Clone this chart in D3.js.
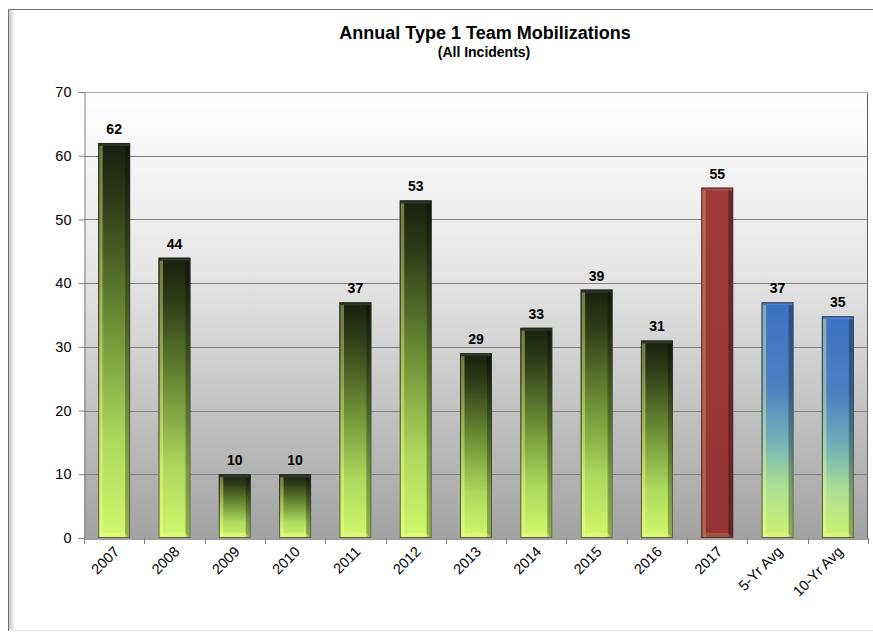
<!DOCTYPE html>
<html><head><meta charset="utf-8">
<script src="https://cdn.jsdelivr.net/npm/d3@7/dist/d3.min.js"></script>
<style>body{margin:0;background:#fff}svg{display:block;font-family:Arial,"Liberation Sans",sans-serif}</style>
</head><body><svg id="c" width="873" height="632"></svg>
<script>
const categories = ["2007","2008","2009","2010","2011","2012","2013","2014","2015","2016","2017","5-Yr Avg","10-Yr Avg"];
const values = [62,44,10,10,37,53,29,33,39,31,55,37,34.8];
const kinds = ["green","green","green","green","green","green","green","green","green","green","red","blue","blue"];
const yTicks = [0,10,20,30,40,50,60,70];
const title = "Annual Type 1 Team Mobilizations";
const subtitle = "(All Incidents)";

const svg = d3.select("#c");
const m = {l:84, r:868, t:92, b:538};
const x = d3.scaleBand().domain(categories).range([m.l, m.r]).paddingInner(0.47).paddingOuter(0.235);
const y = d3.scaleLinear().domain([0,70]).range([m.b, m.t]);

const defs = svg.append("defs");
const bg = defs.append("linearGradient").attr("id","bg").attr("x1",0).attr("y1",0).attr("x2",0).attr("y2",1);
bg.append("stop").attr("offset",0).attr("stop-color","#ffffff");
bg.append("stop").attr("offset",0.4).attr("stop-color","#e6e6e6");
bg.append("stop").attr("offset",1).attr("stop-color","#a2a2a2");
const gg = defs.append("linearGradient").attr("id","g-green").attr("x1",0).attr("y1",0).attr("x2",0).attr("y2",1);
[[0,"#18200e"],[0.15,"#2e3c18"],[0.45,"#6a8c34"],[0.75,"#acd85c"],[1,"#d0f86c"]].forEach(s=>gg.append("stop").attr("offset",s[0]).attr("stop-color",s[1]));
const gr = defs.append("linearGradient").attr("id","g-red").attr("x1",0).attr("y1",0).attr("x2",0).attr("y2",1);
[[0,"#a03a3a"],[1,"#943434"]].forEach(s=>gr.append("stop").attr("offset",s[0]).attr("stop-color",s[1]));
const gb = defs.append("linearGradient").attr("id","g-blue").attr("x1",0).attr("y1",0).attr("x2",0).attr("y2",1);
[[0,"#3c72c4"],[0.35,"#4a80c0"],[0.58,"#70b0b8"],[0.78,"#acde94"],[1,"#cdf270"]].forEach(s=>gb.append("stop").attr("offset",s[0]).attr("stop-color",s[1]));
const sh = defs.append("linearGradient").attr("id","shadow").attr("x1",0).attr("y1",0).attr("x2",1).attr("y2",0);
sh.append("stop").attr("offset",0).attr("stop-color","#c8c8c8");
sh.append("stop").attr("offset",1).attr("stop-color","#ffffff");

// frame
svg.append("rect").attr("x",9).attr("y",10).attr("width",6).attr("height",620).attr("fill","url(#shadow)");
svg.append("path").attr("d","M8.5,631 V9.5 H873").attr("fill","none").attr("stroke","#707070").attr("stroke-width",1);
svg.append("line").attr("x1",14).attr("x2",873).attr("y1",630.5).attr("y2",630.5).attr("stroke","#e4e4e4");

// plot background
svg.append("rect").attr("x",m.l).attr("y",m.t).attr("width",m.r-m.l).attr("height",m.b-m.t).attr("fill","url(#bg)");
svg.append("line").attr("x1",m.r-0.5).attr("x2",m.r-0.5).attr("y1",m.t).attr("y2",m.b).attr("stroke","#606060");

// grid
svg.append("g").selectAll("line").data(yTicks.filter(d=>d>0)).join("line")
  .attr("x1",m.l).attr("x2",m.r).attr("y1",d=>Math.round(y(d))+0.5).attr("y2",d=>Math.round(y(d))+0.5)
  .attr("stroke",d=>d===70?"#b0b0b0":"#808080").attr("stroke-width",1);

// y axis
const ya = svg.append("g").attr("transform",`translate(${m.l+0.5},0)`)
  .call(d3.axisLeft(y).tickValues(yTicks).tickSize(6).tickPadding(7));
ya.select(".domain").attr("stroke","#808080");
ya.selectAll(".tick line").attr("stroke","#808080");
ya.selectAll("text").attr("font-size",14.5).attr("fill","#000").attr("font-family","Arial,'Liberation Sans',sans-serif");

// x axis
const xa = svg.append("g").attr("transform",`translate(0,${m.b+0.5})`)
  .call(d3.axisBottom(x).tickSize(0).tickPadding(0));
xa.select(".domain").attr("stroke","#404040");
xa.selectAll(".tick text").attr("font-size",14.5).attr("fill","#000")
  .attr("font-family","Arial,'Liberation Sans',sans-serif")
  .attr("text-anchor","end").attr("dy",0).attr("transform","translate(6,14) rotate(-45)");
const step = x.step();
const bounds = d3.range(categories.length+1).map(i=>m.l + i*step);
svg.append("g").selectAll("line").data(bounds).join("line")
  .attr("x1",d=>Math.round(d)+0.5).attr("x2",d=>Math.round(d)+0.5).attr("y1",m.b).attr("y2",m.b+6).attr("stroke","#808080");

// bars
const bw = x.bandwidth();
const bars = svg.append("g").selectAll("g").data(categories.map((c,i)=>({c,v:values[i],k:kinds[i]}))).join("g");
bars.append("rect").attr("x",d=>x(d.c)).attr("y",d=>y(d.v)).attr("width",bw).attr("height",d=>y(0)-y(d.v))
  .attr("fill",d=>`url(#g-${d.k})`);
bars.append("rect").attr("x",d=>x(d.c)+1).attr("y",d=>y(d.v)+3).attr("width",3.5).attr("height",d=>Math.max(0,y(0)-y(d.v)-4))
  .attr("fill","#ffff90").attr("opacity",d=>d.k==="red"?0.25:0.4);
bars.append("rect").attr("x",d=>x(d.c)+bw-5).attr("y",d=>y(d.v)+3).attr("width",4).attr("height",d=>Math.max(0,y(0)-y(d.v)-4))
  .attr("fill","#000").attr("opacity",0.3);
bars.append("rect").attr("x",d=>x(d.c)+1).attr("y",d=>y(d.v)+1).attr("width",bw-2).attr("height",2)
  .attr("fill","#fff").attr("opacity",0.1);
bars.append("path").attr("d",d=>{const x0=x(d.c),x1=x0+bw,yb=y(0);return `M${x0+1},${yb} L${x0+5},${yb-5} L${x1-5},${yb-5} L${x1-1},${yb} Z`;})
  .attr("fill","#ffffa0").attr("opacity",d=>d.k==="red"?0.15:0.3);
bars.append("rect").attr("x",d=>x(d.c)+0.5).attr("y",d=>y(d.v)+0.5).attr("width",bw-1).attr("height",d=>y(0)-y(d.v)-1)
  .attr("fill","none").attr("stroke","#2a2a2a").attr("stroke-opacity",0.75).attr("stroke-width",1);

// labels
svg.append("g").selectAll("text").data(categories.map((c,i)=>({c,v:values[i]}))).join("text")
  .attr("x",d=>x(d.c)+bw/2).attr("y",d=>y(d.v)-9).attr("text-anchor","middle")
  .attr("font-size",14).attr("font-weight","bold").attr("fill","#000").text(d=>d3.format(".0f")(d.v));

// titles
svg.append("text").attr("x",485).attr("y",39).attr("text-anchor","middle").attr("font-size",18).attr("font-weight","bold").text(title);
svg.append("text").attr("x",484).attr("y",57).attr("text-anchor","middle").attr("font-size",14).attr("font-weight","bold").text(subtitle);
</script></body></html>
